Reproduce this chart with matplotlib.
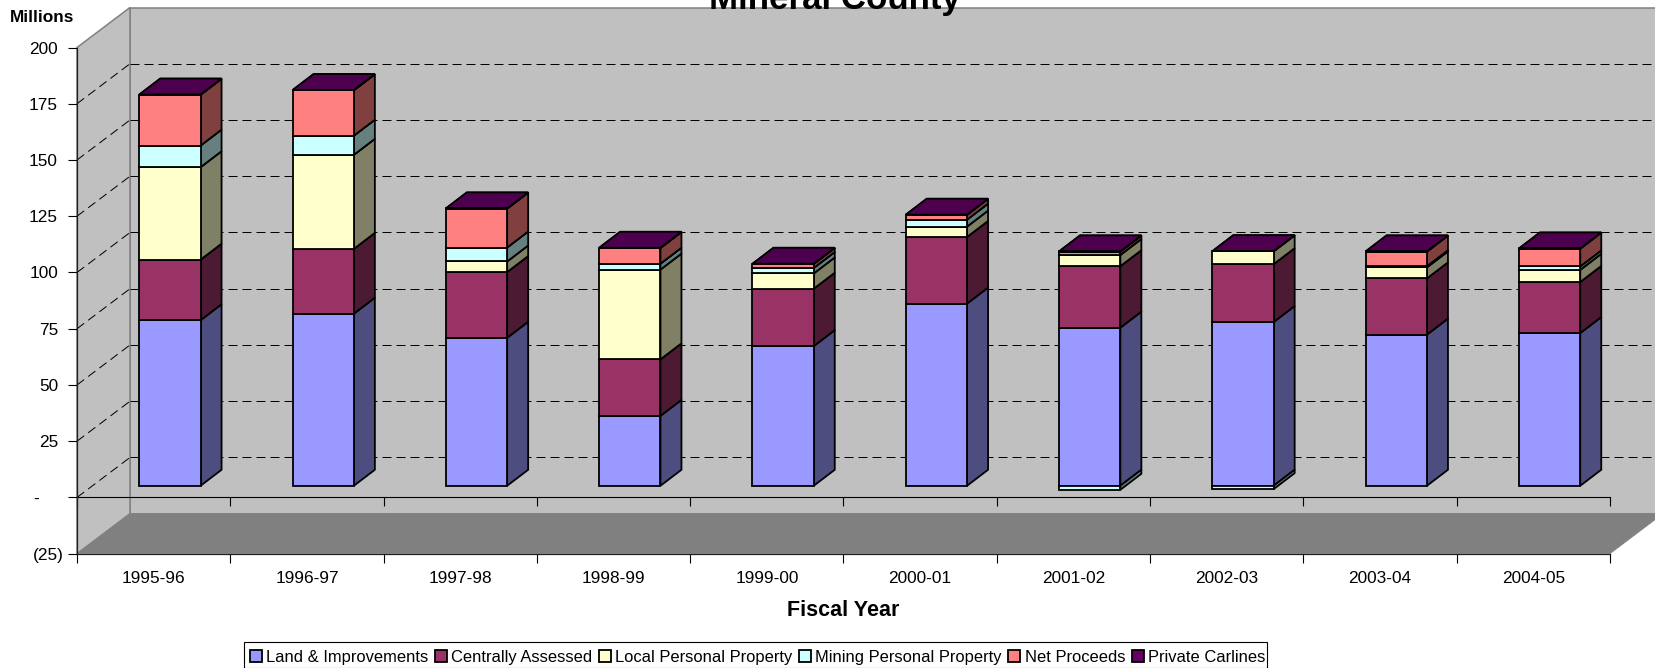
import matplotlib
matplotlib.use('Agg')
import matplotlib.pyplot as plt
from matplotlib.patches import Polygon, Rectangle

plt.rcParams['font.family'] = ['Liberation Sans', 'DejaVu Sans']

# data, in millions
years = ['1995-96', '1996-97', '1997-98', '1998-99', '1999-00',
         '2000-01', '2001-02', '2002-03', '2003-04', '2004-05']
land = [73.6, 76.5, 65.8, 31.1, 62.1, 81.0, 70.3, 72.8, 67.2, 67.9]
central = [26.9, 28.8, 29.2, 25.1, 25.5, 29.6, 27.3, 25.7, 25.0, 22.7]
local = [41.1, 41.8, 4.7, 39.9, 6.8, 4.6, 5.0, 5.7, 4.9, 5.4]
mining = [9.6, 8.5, 6.2, 2.6, 2.4, 3.1, -1.8, -1.5, 0.5, 1.5]
net = [22.6, 20.2, 17.3, 7.0, 1.8, 2.1, 1.5, 0.0, 6.5, 7.9]
carlines = [0.1, 0.1, 0.1, 0.1, 0.1, 0.1, 0.1, 0.1, 0.1, 0.1]

names = ['Land & Improvements', 'Centrally Assessed', 'Local Personal Property',
         'Mining Personal Property', 'Net Proceeds', 'Private Carlines']
series = [land, central, local, mining, net, carlines]
fronts = ['#9999FF', '#993366', '#FFFFCC', '#CCFFFF', '#FF8080', '#660066']
sides = ['#4D4D80', '#4D1A33', '#808066', '#668080', '#804040', '#330033']
tops = ['#7373BF', '#73264D', '#BFBF99', '#99BFBF', '#BF6060', '#4D004D']

y_ticks = [-25, 0, 25, 50, 75, 100, 125, 150, 175, 200]
y_labels = ['(25)', '-', '25', '50', '75', '100', '125', '150', '175', '200']
y_pads = [4, 29, 10, 10, 10, 10, 10, 10, 10, 10]  # pixels

W, H = 1656, 668
px = 72 / 100  # pixels to points

fig = plt.figure(figsize=(W / 100, H / 100), dpi=100)
ax = fig.add_axes([77 / W, (H - 553.7) / H, 1533 / W, 506.2 / H])
ax.set_xlim(0, 10)
ax.set_ylim(-25, 200)

# depth of the fake 3d box, in data units
wall_dx = 53 / 153.3
wall_dy = 40 / 2.25
bar_w = 0.4
bar_dx = 21 / 153.3
bar_dy = 16 / 2.25
shift_x = 0.106
shift_y = 5.2

wall = '#C0C0C0'
wall_edge = '#808080'
xr = 10 + wall_dx

# walls and floor
ax.add_patch(Polygon([(wall_dx, -25 + wall_dy), (xr, -25 + wall_dy), (xr, 200 + wall_dy), (wall_dx, 200 + wall_dy)],
                     fc=wall, ec=wall_edge, lw=1.1, clip_on=False, zorder=0))
ax.add_patch(Polygon([(0, -25), (wall_dx, -25 + wall_dy), (wall_dx, 200 + wall_dy), (0, 200)],
                     fc=wall, ec=wall_edge, lw=1.1, clip_on=False, zorder=0))
ax.add_patch(Polygon([(0, -25), (10, -25), (xr, -25 + wall_dy), (wall_dx, -25 + wall_dy)],
                     fc='#808080', ec='#808080', lw=0.5, clip_on=False, zorder=0.5))

# dashed grid on both walls
dash = (0, (9, 5))
for v in y_ticks[1:-1]:
    ax.plot([wall_dx, xr], [v + wall_dy, v + wall_dy], color='black', lw=0.72,
            ls=dash, clip_on=False, zorder=1)
    ax.plot([0, wall_dx], [v, v + wall_dy], color='black', lw=0.72,
            ls=dash, clip_on=False, zorder=1)

# zero line with its ticks
ax.plot([0, 10], [0, 0], color='black', lw=0.8, clip_on=False, zorder=2)
ax.vlines(range(11), -9 / 2.25, 0, color='black', lw=0.8, clip_on=False, zorder=2)

# stacked bars
edge_lw = 1.3
pos = [0.0] * len(years)
neg = [0.0] * len(years)
for k, vals in enumerate(series):
    idx = [i for i, v in enumerate(vals) if v != 0]
    xs = [i + 0.5 + shift_x for i in idx]
    hs = []
    bots = []
    for i in idx:
        v = vals[i]
        if v > 0:
            bots.append(pos[i] + shift_y)
            pos[i] += v
        else:
            bots.append(neg[i] + v + shift_y)
            neg[i] += v
        hs.append(abs(v))
    z = 3 + k
    bars = ax.bar(xs, hs, width=bar_w, bottom=bots, color=fronts[k], edgecolor='black',
                  linewidth=edge_lw, label=names[k], zorder=z + 0.2)
    for x, h, b, i in zip(xs, hs, bots, idx):
        xl = x - bar_w / 2
        xh = x + bar_w / 2
        t = b + h
        ax.add_patch(Polygon([(xh, b), (xh + bar_dx, b + bar_dy), (xh + bar_dx, t + bar_dy), (xh, t)],
                             fc=sides[k], ec='black', lw=edge_lw, zorder=z, joinstyle='miter'))
        # a segment below zero keeps its top hidden under the stack
        if vals[i] > 0:
            ax.add_patch(Polygon([(xl, t), (xh, t), (xh + bar_dx, t + bar_dy), (xl + bar_dx, t + bar_dy)],
                                 fc=tops[k], ec='black', lw=edge_lw, zorder=z + 0.1, joinstyle='miter'))

# axes
for s in ['top', 'right']:
    ax.spines[s].set_visible(False)
for s in ['left', 'bottom']:
    ax.spines[s].set_linewidth(0.9)
    ax.spines[s].set_color('#202020')
    ax.spines[s].set_zorder(2)

ax.set_yticks(y_ticks)
ax.set_yticklabels(y_labels, fontsize=12.4)
ax.tick_params(axis='y', length=9 * px, width=0.8)
for tick, p in zip(ax.yaxis.get_major_ticks(), y_pads):
    tick.set_pad(p * px)

ax.set_xticks([i + 0.5 for i in range(10)])
ax.set_xticklabels(years, fontsize=12.4)
ax.set_xticks(range(11), minor=True)
ax.tick_params(axis='x', which='major', length=0, pad=17 * px)
ax.tick_params(axis='x', which='minor', length=9 * px, width=0.8)

ax.set_xlabel('Fiscal Year', fontsize=15.5, fontweight='bold', labelpad=14 * px)

fig.text(10 / W, 1 - 17 / H, 'Millions', fontsize=12.4, fontweight='bold', ha='left', va='center')
fig.text(835 / W, 1 - 9.5 / H, 'Mineral County', fontsize=25.1, fontweight='bold',
         ha='center', va='baseline', zorder=10)

# legend box runs off the bottom of the picture, hugging the text on the right
ax.add_patch(Rectangle((244 / W, 0), (1267 - 244) / W, 1 - 641.7 / H, transform=fig.transFigure,
                       fc='white', ec='black', lw=0.8, clip_on=False, zorder=19))
leg = ax.legend(loc='upper left', bbox_to_anchor=(244 / W, 1 - 643.7 / H), bbox_transform=fig.transFigure,
                ncol=6, fontsize=11.9, frameon=False, borderaxespad=0,
                handlelength=0.72, handleheight=0.7, handletextpad=0.27, columnspacing=0.39, borderpad=0.36)
leg.set_zorder(20)

fig.savefig('out.png', dpi=100)
